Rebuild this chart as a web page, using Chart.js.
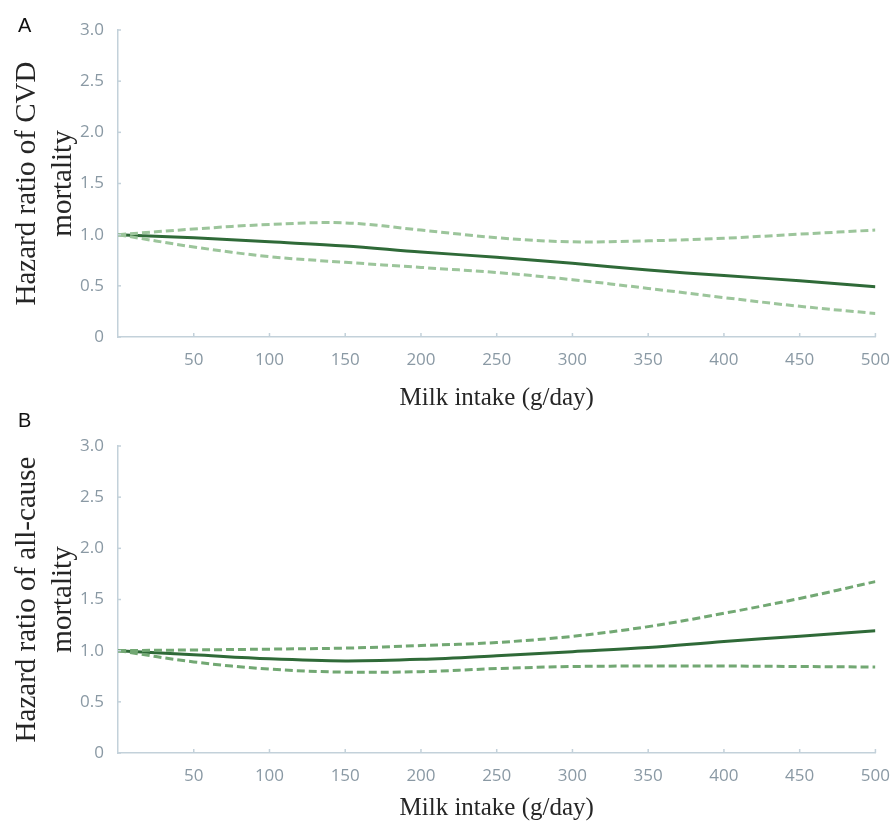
<!DOCTYPE html>
<html>
<head>
<meta charset="utf-8">
<script src="https://cdn.jsdelivr.net/npm/chart.js@4.4.1/dist/chart.umd.min.js"></script>
<style>
  body { margin: 0; background: #fff; }
  .panel { position: absolute; left: 0; width: 895px; }
  .tag { position: absolute; left: 18px; font: 20px/1 "Liberation Sans", Arial, sans-serif; color: #111; }
</style>
</head>
<body>
<div class="panel" style="top:0;height:420px"><canvas id="chartA" width="895" height="420"></canvas></div>
<div class="panel" style="top:410px;height:415px"><canvas id="chartB" width="895" height="415"></canvas></div>
<div class="tag" style="top:15px">A</div>
<div class="tag" style="top:410px">B</div>
<script>
// milk intake (g/day)
const intake = [0, 50, 100, 150, 200, 250, 300, 350, 400, 450, 500];

// panel A: CVD mortality
const cvdHR    = [1.00, 0.97, 0.93, 0.89, 0.83, 0.78, 0.72, 0.655, 0.60, 0.55, 0.49];
const cvdUpper = [1.00, 1.055, 1.10, 1.115, 1.045, 0.97, 0.93, 0.94, 0.965, 1.005, 1.045];
const cvdLower = [1.00, 0.88, 0.785, 0.73, 0.68, 0.63, 0.56, 0.475, 0.385, 0.30, 0.23];

// panel B: all-cause mortality
const allHR    = [1.00, 0.96, 0.92, 0.90, 0.915, 0.95, 0.99, 1.03, 1.09, 1.14, 1.195];
const allUpper = [1.00, 1.007, 1.015, 1.025, 1.05, 1.08, 1.14, 1.235, 1.365, 1.51, 1.675];
const allLower = [1.00, 0.89, 0.82, 0.79, 0.795, 0.825, 0.845, 0.85, 0.85, 0.845, 0.84];

const xTicks = [50, 100, 150, 200, 250, 300, 350, 400, 450, 500];
const yTicks = [0, 0.5, 1.0, 1.5, 2.0, 2.5, 3.0];

const axisColor = '#c3d1da';
const tickColor = '#8a99a4';

const pts = (ys) => intake.map((x, i) => ({ x: x, y: ys[i] }));

// little tick marks drawn inside the axes
const innerTicks = {
    id: 'innerTicks',
    afterDraw(chart) {
        const ctx = chart.ctx;
        const xs = chart.scales.x, ys = chart.scales.y;
        ctx.save();
        ctx.strokeStyle = axisColor;
        ctx.lineWidth = 1.5;
        xTicks.forEach(v => {
            const px = xs.getPixelForValue(v);
            ctx.beginPath();
            ctx.moveTo(px, ys.bottom);
            ctx.lineTo(px, ys.bottom - 4);
            ctx.stroke();
        });
        yTicks.forEach(v => {
            const py = ys.getPixelForValue(v);
            ctx.beginPath();
            ctx.moveTo(xs.left, py);
            ctx.lineTo(xs.left + 3, py);
            ctx.stroke();
        });
        ctx.restore();
    }
};

function makeChart(id, hr, upper, lower, yTitle, ciColor, topPad, xHeight, titleBottom) {
    const dashed = (data) => ({
        data: pts(data),
        borderColor: ciColor,
        borderWidth: 3,
        borderDash: [8, 4],
        pointRadius: 0,
        fill: false,
        tension: 0.35
    });
    return new Chart(document.getElementById(id), {
        type: 'line',
        data: {
            datasets: [
                dashed(upper),
                dashed(lower),
                {
                    data: pts(hr),
                    borderColor: '#2f6a38',
                    borderWidth: 3,
                    pointRadius: 0,
                    fill: false,
                    tension: 0.35
                }
            ]
        },
        options: {
            responsive: false,
            animation: false,
            layout: { padding: { left: 0, top: topPad, right: 18, bottom: 0 } },
            plugins: { legend: { display: false }, tooltip: { enabled: false } },
            scales: {
                x: {
                    type: 'linear',
                    min: 0,
                    max: 500,
                    afterBuildTicks: (s) => { s.ticks = xTicks.map(v => ({ value: v })); },
                    afterFit: (s) => { s.height = xHeight; },
                    grid: { display: false },
                    border: { color: axisColor, width: 1.5 },
                    ticks: { color: tickColor, font: { family: 'Open Sans', size: 17 }, padding: 5, maxRotation: 0 },
                    title: {
                        display: true,
                        text: 'Milk intake (g/day)',
                        color: '#262626',
                        font: { family: 'Liberation Serif', size: 25 },
                        padding: { top: 0, bottom: titleBottom }
                    }
                },
                y: {
                    min: 0,
                    max: 3,
                    afterBuildTicks: (s) => { s.ticks = yTicks.map(v => ({ value: v })); },
                    afterFit: (s) => { s.width = 118; },
                    grid: { display: false },
                    border: { color: axisColor, width: 1.5 },
                    ticks: {
                        color: tickColor,
                        font: { family: 'Open Sans', size: 17 },
                        padding: 6,
                        callback: (v) => v === 0 ? '0' : v.toFixed(1)
                    },
                    title: {
                        display: true,
                        text: yTitle,
                        color: '#262626',
                        font: { family: 'Liberation Serif', size: 29, lineHeight: 1.24 },
                        padding: { top: 9, bottom: 0 }
                    }
                }
            }
        },
        plugins: [innerTicks]
    });
}

makeChart('chartA', cvdHR, cvdUpper, cvdLower, ['Hazard ratio of CVD', 'mortality'], '#9cc59b', 30, 83, 7);
makeChart('chartB', allHR, allUpper, allLower, ['Hazard ratio of all-cause', 'mortality'], '#72a873', 36, 72, 2);
</script>
</body>
</html>
